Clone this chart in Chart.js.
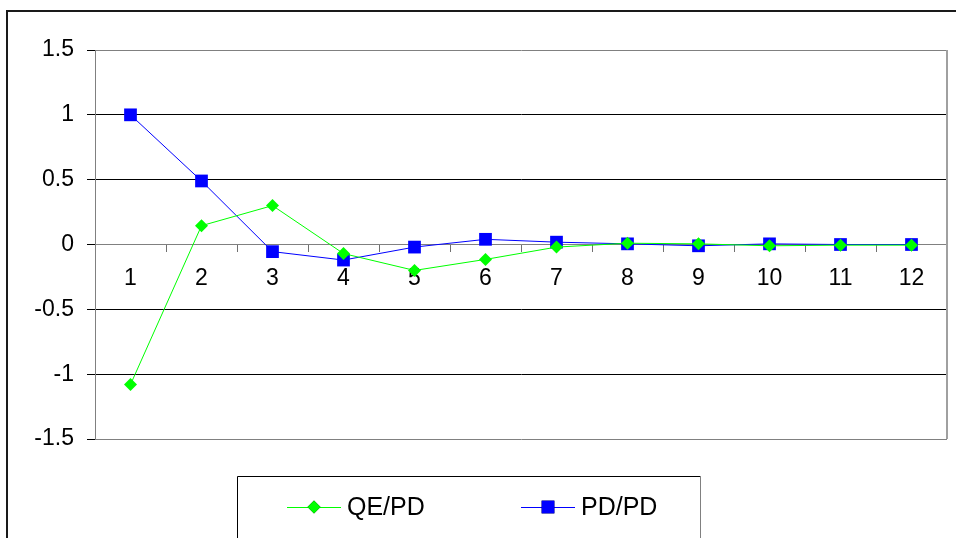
<!DOCTYPE html>
<html>
<head>
<meta charset="utf-8">
<script src="https://cdn.jsdelivr.net/npm/chart.js@4/dist/chart.umd.min.js"></script>
<style>
  html, body { margin: 0; padding: 0; background: #fff; }
  #wrap { width: 956px; height: 538px; }
</style>
</head>
<body>
<div id="wrap"><canvas id="lagChart" width="956" height="538"></canvas></div>
<script>
const lags = ['1', '2', '3', '4', '5', '6', '7', '8', '9', '10', '11', '12'];
const qePd = [-1.08, 0.145, 0.30, -0.07, -0.20, -0.115, -0.02, 0.01, 0.005, -0.01, -0.005, -0.005];
const pdPd = [1.0, 0.49, -0.055, -0.12, -0.02, 0.04, 0.018, 0.005, -0.01, 0.005, 0.0, 0.0];
const yTicks = [-1.5, -1, -0.5, 0, 0.5, 1, 1.5];

const FONT = 'Liberation Sans, Arial, sans-serif';

// outer frame, plot border and the boxed legend underneath
const framePlugin = {
    id: 'frame',
    beforeDraw(chart) {
        const c = chart.ctx;
        c.save();
        c.fillStyle = '#fff';
        c.fillRect(0, 0, chart.width, chart.height);
        c.strokeStyle = '#1a1a1a';
        c.lineWidth = 2;
        c.beginPath();
        c.moveTo(7, 538);
        c.lineTo(7, 11);
        c.lineTo(956, 11);
        c.stroke();
        c.restore();
    },
    afterDraw(chart) {
        const c = chart.ctx;
        const a = chart.chartArea;
        c.save();
        c.strokeStyle = '#a0a0a0';
        c.lineWidth = 2;
        c.beginPath();
        c.moveTo(Math.round(a.right), a.top);
        c.lineTo(Math.round(a.right), a.bottom);
        c.stroke();

        // legend box
        c.lineWidth = 1;
        c.strokeStyle = '#000';
        c.beginPath();
        c.moveTo(237.5, 538);
        c.lineTo(237.5, 476.5);
        c.lineTo(700.5, 476.5);
        c.stroke();
        c.strokeStyle = '#808080';
        c.beginPath();
        c.moveTo(700.5, 476.5);
        c.lineTo(700.5, 538);
        c.stroke();

        const items = [
            { ds: chart.data.datasets[0], x: 287 },
            { ds: chart.data.datasets[1], x: 521 }
        ];
        const ly = 507;
        items.forEach(it => {
            c.strokeStyle = it.ds.borderColor;
            c.lineWidth = 1;
            c.beginPath();
            c.moveTo(it.x, ly + 0.5);
            c.lineTo(it.x + 54, ly + 0.5);
            c.stroke();
            Chart.helpers.drawPoint(c, {
                pointStyle: it.ds.pointStyle,
                radius: it.ds.pointRadius,
                borderWidth: 0
            }, it.x + 27, ly);
            c.fillStyle = it.ds.pointBackgroundColor;
            c.fill();
            c.fillStyle = '#000';
            c.font = '25px ' + FONT;
            c.textBaseline = 'middle';
            c.textAlign = 'left';
            c.fillText(it.ds.label, it.x + 60, ly + 1);
        });
        c.restore();
    }
};

const ctx = document.getElementById('lagChart').getContext('2d');

const lagChart = new Chart(ctx, {
    type: 'line',
    data: {
        labels: lags,
        datasets: [{
            label: 'QE/PD',
            data: qePd,
            borderColor: '#00ff00',
            backgroundColor: '#00ff00',
            pointBackgroundColor: '#00ff00',
            pointBorderColor: '#00ff00',
            pointStyle: 'rectRot',
            pointRadius: 6.5,
            pointBorderWidth: 0,
            borderWidth: 1,
            tension: 0,
        }, {
            label: 'PD/PD',
            data: pdPd,
            borderColor: '#0000ff',
            backgroundColor: '#0000ff',
            pointBackgroundColor: '#0000ff',
            pointBorderColor: '#0000ff',
            pointStyle: 'rect',
            pointRadius: 9,
            pointBorderWidth: 0,
            borderWidth: 1,
            tension: 0,
        }],
    },
    options: {
        responsive: false,
        animation: false,
        events: [],
        layout: {
            padding: { top: 50, right: 5, bottom: 99, left: 0 },
        },
        plugins: {
            legend: { display: false },
            tooltip: { enabled: false },
        },
        scales: {
            x: {
                type: 'category',
                position: { y: 0 },
                offset: true,
                grid: {
                    offset: true,
                    drawOnChartArea: false,
                    drawTicks: true,
                    tickLength: 7,
                    tickColor: '#707070',
                    lineWidth: 1,
                },
                border: { display: true, color: '#808080', width: 1 },
                ticks: {
                    color: '#000',
                    font: { family: FONT, size: 23 },
                    padding: 13,
                    maxRotation: 0,
                    autoSkip: false,
                },
            },
            y: {
                min: -1.5,
                max: 1.5,
                afterFit(scale) {
                    scale.width = 95;
                },
                afterBuildTicks(scale) {
                    scale.ticks = yTicks.map(v => ({ value: v }));
                },
                grid: {
                    color: c => (Math.abs(c.tick.value) === 1.5 || c.tick.value === 0) ? '#808080' : '#000',
                    tickColor: '#000',
                    tickLength: 8,
                    lineWidth: 1,
                },
                border: { display: true, color: '#808080', width: 1 },
                ticks: {
                    color: '#000',
                    font: { family: FONT, size: 23 },
                    padding: 13,
                    callback: v => String(v),
                },
            },
        },
    },
    plugins: [framePlugin],
});
</script>
</body>
</html>
